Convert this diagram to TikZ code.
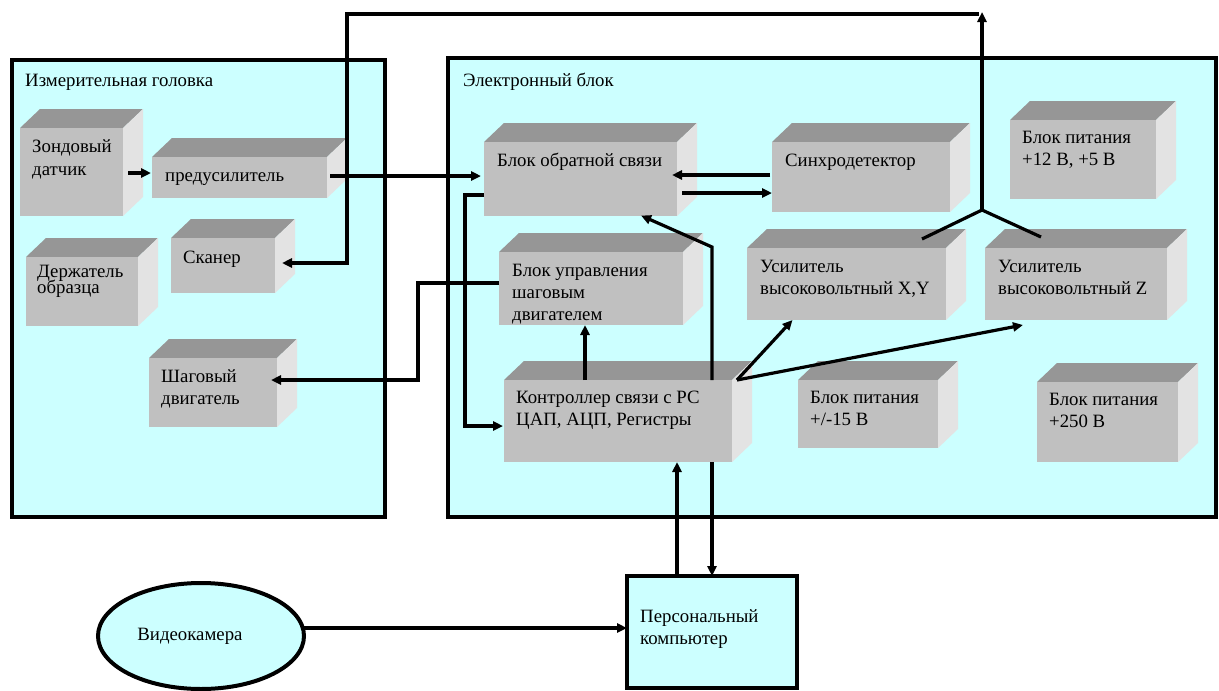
\documentclass[tikz,border=0pt]{standalone}
\usepackage{fontspec}
\setmainfont{Liberation Serif}
\usetikzlibrary{arrows.meta,shapes.geometric}
\definecolor{bgc}{HTML}{CCFFFF}
\definecolor{topc}{HTML}{969696}
\definecolor{frontc}{HTML}{C0C0C0}
\definecolor{sidec}{HTML}{E3E3E3}
\tikzset{
  front/.style={fill=frontc, inner sep=0pt, outer sep=0pt},
  lbl/.style={anchor=north west, inner sep=0pt, align=left, font=\fontsize{18.8}{22}\selectfont},
  panel/.style={fill=bgc, draw=black, line width=4.5pt},
  wire/.style={draw=black, line width=3.2pt},
  arr/.style={wire, -{Triangle[length=10pt,width=9pt]}},
}
\newcommand\cube[5]{%
  \fill[topc] (#2,#3) -- ++(20,-19) -- ({#4+20},{#3-19}) -- (#4,#3) -- cycle;
  \fill[sidec] (#4,#3) -- ({#4+20},{#3-19}) -- ({#4+20},{#5-19}) -- (#4,#5) -- cycle;
  \node[front, minimum width={(#4-#2)*1pt}, minimum height={(#5-#3)*1pt}, anchor=north west] (#1) at (#2,#3) {};
}
\newcommand\lbl[4]{\node[lbl] (#1) at (#2,{#3-15}) {\rule{0pt}{15pt}#4};}
\begin{document}
\begin{tikzpicture}[x=1pt,y=-1pt]
\useasboundingbox (0,0) rectangle (1219,691);
\fill[white] (0,0) rectangle (1219,691);
% panels
\draw[panel] (12,60) rectangle (385,517);
\draw[panel] (448,58) rectangle (1216,517);
\lbl{t1}{25}{86}{Измерительная головка}
\lbl{t2}{463}{86}{Электронный блок}
% cubes
\cube{zond}{20}{128}{123}{216}
\cube{pre}{152}{157}{327}{198}
\cube{sc}{171}{238}{275}{293}
\cube{hold}{26}{257}{138}{326}
\cube{step}{149}{358}{277}{427}
\cube{fb}{484}{142}{677}{216}
\cube{sd}{772}{142}{950}{212}
\cube{bu}{499}{252}{683}{325}
\cube{ctrl}{504}{380}{732}{462}
\cube{xy}{747}{248}{946}{320}
\cube{z}{985}{248}{1167}{320}
\cube{p12}{1010}{120}{1156}{199}
\cube{p15}{798}{380}{938}{448}
\cube{p250}{1037}{382}{1178}{462}
% labels
\lbl{zond-t}{32}{152}{Зондовый\\[1pt]датчик}
\lbl{pre-t}{165}{181}{предусилитель}
\lbl{sc-t}{183}{263}{Сканер}
\lbl{hold-t}{37}{277}{Держатель\\[-6pt]образца}
\lbl{step-t}{161}{382}{Шаговый\\двигатель}
\lbl{fb-t}{497}{166}{Блок обратной связи}
\lbl{sd-t}{785}{166}{Синхродетектор}
\lbl{bu-t}{512}{276}{Блок управления\\шаговым\\двигателем}
\lbl{ctrl-t}{516}{403}{Контроллер связи с РС\\ЦАП, АЦП, Регистры}
\lbl{xy-t}{760}{272}{Усилитель\\высоковольтный X,Y}
\lbl{z-t}{998}{272}{Усилитель\\высоковольтный Z}
\lbl{p12-t}{1022}{143}{Блок питания\\+12 В, +5 В}
\lbl{p15-t}{810}{403}{Блок питания\\+/-15 В}
\lbl{p250-t}{1049}{405}{Блок питания\\+250 В}
% bottom
\node[ellipse, draw=black, fill=bgc, line width=4pt, minimum width=206pt, minimum height=106pt, inner sep=0pt, outer sep=0pt, font=\fontsize{18.8}{22}\selectfont] (cam) at (201,636) {Видеокамера\hspace*{22pt}};
\node[draw=black, fill=bgc, line width=4.5pt, minimum width=170pt, minimum height=112pt, anchor=north west, inner sep=0pt, outer sep=0pt] (pc) at (627,576) {};
\lbl{pc-t}{640}{622}{Персональный\\компьютер}
% helper coordinates
\coordinate (fork) at (982,210);
\coordinate (topR) at (982,12);
\coordinate (topL) at (347,14);
\coordinate (scanB) at (347,263);
\coordinate (bend1) at (465,195);
\coordinate (bend2) at (465,426);
\coordinate (bend3) at (418,283);
\coordinate (bend4) at (418,380);
\coordinate (bend5) at (712,247);
\coordinate (c677) at (677,0);
\coordinate (c585) at (585,0);
\coordinate (c642) at (642,0);
\coordinate (y173) at (0,173);
\coordinate (y176) at (0,176);
\coordinate (y175) at (0,175);
\coordinate (y193) at (0,193);
\coordinate (y628) at (0,628);
% connectors
\draw[arr, shorten >=1pt] (zond.east |- y173) ++(5,0) -- (pre.west |- y173);
\draw[arr, shorten >=3pt] (pre.east |- y176) ++(3,0) -- (fb.west |- y176);
\draw[arr, shorten >=-5pt] (sd.west |- y175) ++(-2,0) -- (fb.east |- y175);
\draw[arr] (fb.east |- y193) ++(5,0) -- (sd.west |- y193);
\draw[arr, shorten >=1pt] (fb.west |- bend1) -- (bend1) -- (bend2) -- (ctrl.west |- bend2);
\draw[arr, shorten >=-1pt] (ctrl.north -| pc.north) -- (bend5) -- (fb.south -| c642);
\draw[arr] (ctrl.north -| c585) -- (bu.south -| c585);
\draw[arr, shorten >=-6pt] (bu.west |- bend3) -- (bend3) -- (bend4) -- (step.east |- bend4);
\draw[wire] ([xshift=-24pt,yshift=9pt]xy.north east) -- (fork);
\draw[wire] ([xshift=56pt,yshift=11pt]z.north west) -- (fork);
\draw[arr] (fork) -- (topR);
\draw[arr, shorten >=7pt] ([xshift=-3pt,yshift=-2pt]topR) -- (topL) -- (scanB) -- (sc.east |- scanB);
\draw[arr] ([xshift=5pt]ctrl.north east) -- ([xshift=-54pt]xy.south);
\draw[arr] ([xshift=5pt]ctrl.north east) -- ([xshift=-53pt,yshift=-5pt]z.south);
\draw[arr] (pc.north -| c677) -- (ctrl.south -| c677);
\draw[arr] (ctrl.south -| pc.north) -- (pc.north);
\draw[arr] (cam.east |- y628) -- (pc.west |- y628);
\end{tikzpicture}
\end{document}
